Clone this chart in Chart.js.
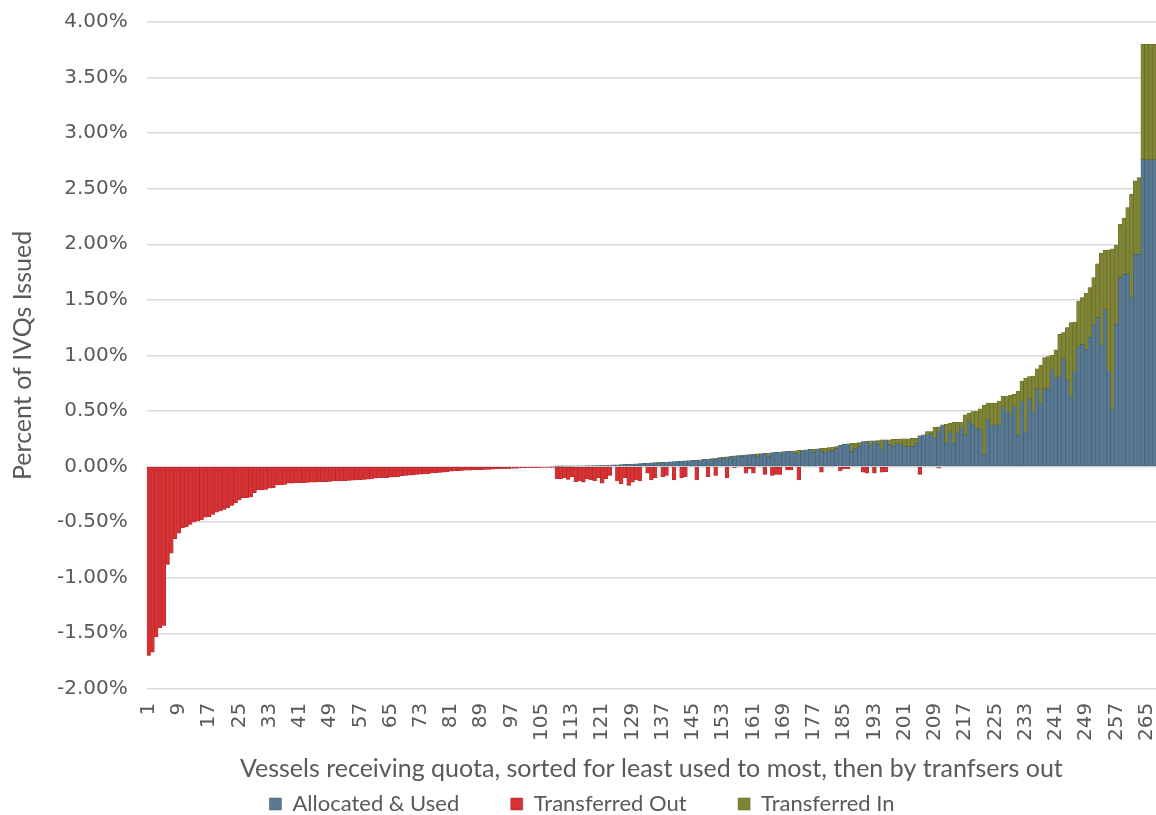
<!DOCTYPE html>
<html>
<head>
<meta charset="utf-8">
<title>IVQ usage by vessel</title>
<script src="https://cdn.jsdelivr.net/npm/chart.js@4/dist/chart.umd.min.js"></script>
<style>
  html, body { margin: 0; padding: 0; background: #fff; }
  #wrap { width: 1156px; height: 815px; }
</style>
</head>
<body>
<div id="wrap"><canvas id="ivqChart" width="1156" height="815"></canvas></div>
<script>
// vessel numbers along the x axis (1..267), labelled every 8th
const vessels = Array.from({ length: 267 }, (_, i) => String(i + 1));

// percent of IVQs issued, one value per vessel
const allocatedUsed = [
  0, 0, 0, 0, 0, 0, 0, 0, 0, 0,
  0, 0, 0, 0, 0, 0, 0, 0, 0, 0,
  0, 0, 0, 0, 0, 0, 0, 0, 0, 0,
  0, 0, 0, 0, 0, 0, 0, 0, 0, 0,
  0, 0, 0, 0, 0, 0, 0, 0, 0, 0,
  0, 0, 0, 0, 0, 0, 0, 0, 0, 0,
  0, 0, 0, 0, 0, 0, 0, 0, 0, 0,
  0, 0, 0, 0, 0, 0, 0, 0, 0, 0,
  0, 0, 0, 0, 0, 0, 0, 0, 0, 0,
  0, 0, 0, 0, 0, 0, 0, 0, 0, 0,
  0, 0, 0, 0, 0, 0, 0, 0, 0.001, 0.002,
  0.003, 0.004, 0.004, 0.005, 0.006, 0.007, 0.008, 0.008, 0.009, 0.010,
  0.011, 0.012, 0.014, 0.015, 0.016, 0.018, 0.019, 0.021, 0.023, 0.025,
  0.027, 0.029, 0.031, 0.033, 0.035, 0.030, 0.039, 0.041, 0.043, 0.045,
  0.047, 0.049, 0.051, 0.045, 0.056, 0.058, 0.052, 0.064, 0.068, 0.060,
  0.065, 0.080, 0.070, 0.088, 0.075, 0.096, 0.099, 0.090, 0.105, 0.108,
  0.111, 0.088, 0.107, 0.120, 0.090, 0.125, 0.128, 0.131, 0.122, 0.137,
  0.139, 0.114, 0.122, 0.137, 0.151, 0.154, 0.128, 0.160, 0.133, 0.131,
  0.140, 0.146, 0.160, 0.190, 0.200, 0.205, 0.135, 0.165, 0.180, 0.225,
  0.226, 0.186, 0.231, 0.200, 0.159, 0.240, 0.201, 0.180, 0.210, 0.195,
  0.180, 0.177, 0.180, 0.210, 0.270, 0.285, 0.276, 0.294, 0.255, 0.315,
  0.375, 0.210, 0.315, 0.210, 0.300, 0.351, 0.285, 0.411, 0.375, 0.345,
  0.330, 0.100, 0.420, 0.366, 0.375, 0.370, 0.540, 0.500, 0.465, 0.540,
  0.280, 0.585, 0.310, 0.610, 0.490, 0.700, 0.570, 0.700, 0.700, 0.870,
  0.790, 0.810, 0.970, 0.780, 0.630, 0.860, 1.077, 1.100, 1.050, 1.160,
  1.270, 1.340, 1.090, 1.415, 0.860, 0.510, 1.280, 1.700, 1.730, 1.730,
  1.520, 1.910, 1.910, 2.760, 2.760, 2.760, 2.760
];

const transferredOut = [
  -1.70, -1.67, -1.53, -1.45, -1.43, -0.88, -0.78, -0.65, -0.60, -0.55,
  -0.54, -0.52, -0.50, -0.49, -0.48, -0.455, -0.45, -0.43, -0.41, -0.40,
  -0.385, -0.37, -0.35, -0.325, -0.30, -0.28, -0.28, -0.275, -0.235, -0.21,
  -0.21, -0.205, -0.195, -0.19, -0.165, -0.165, -0.16, -0.15, -0.15, -0.148,
  -0.146, -0.145, -0.143, -0.14, -0.14, -0.138, -0.136, -0.135, -0.133, -0.13,
  -0.13, -0.128, -0.126, -0.125, -0.123, -0.12, -0.118, -0.116, -0.114, -0.112,
  -0.105, -0.103, -0.101, -0.10, -0.095, -0.093, -0.09, -0.082, -0.08, -0.078,
  -0.075, -0.07, -0.068, -0.066, -0.063, -0.058, -0.055, -0.052, -0.05, -0.045,
  -0.042, -0.04, -0.038, -0.035, -0.033, -0.032, -0.03, -0.029, -0.028, -0.026,
  -0.025, -0.024, -0.022, -0.02, -0.019, -0.018, -0.017, -0.016, -0.015, -0.013,
  -0.012, -0.011, -0.01, -0.009, -0.008, -0.007, -0.005, -0.003, -0.11, -0.11,
  -0.10, -0.115, -0.09, -0.135, -0.13, -0.14, -0.11, -0.12, -0.13, -0.10,
  -0.15, -0.11, -0.08, 0, -0.13, -0.155, -0.10, -0.17, -0.14, -0.12,
  -0.13, 0, -0.06, -0.12, -0.10, 0, -0.09, -0.08, 0, -0.12,
  0, -0.10, -0.09, 0, 0, -0.12, 0, 0, -0.09, 0,
  -0.08, 0, 0, -0.10, 0, -0.01, 0, 0, -0.06, -0.02,
  -0.06, 0, 0, -0.07, 0, -0.08, -0.07, -0.07, 0, -0.03,
  -0.03, 0, -0.12, 0, 0, 0, 0, 0, -0.05, 0,
  0, 0, 0, -0.04, -0.02, -0.02, 0, 0, 0, -0.05,
  -0.06, 0, -0.06, 0, -0.05, -0.045, 0, 0, 0, 0,
  0, 0, 0, 0, -0.07, 0, 0, 0, 0, -0.015,
  0, 0, 0, 0, 0, 0, 0, 0, 0, 0,
  0, 0, 0, 0, 0, 0, 0, 0, 0, 0,
  0, 0, 0, 0, 0, 0, 0, 0, 0, 0,
  0, 0, 0, 0, 0, 0, 0, 0, 0, 0,
  0, 0, 0, 0, 0, 0, 0, 0, 0, 0,
  0, 0, 0, 0, 0, 0, 0
];

const transferredIn = [
  0, 0, 0, 0, 0, 0, 0, 0, 0, 0,
  0, 0, 0, 0, 0, 0, 0, 0, 0, 0,
  0, 0, 0, 0, 0, 0, 0, 0, 0, 0,
  0, 0, 0, 0, 0, 0, 0, 0, 0, 0,
  0, 0, 0, 0, 0, 0, 0, 0, 0, 0,
  0, 0, 0, 0, 0, 0, 0, 0, 0, 0,
  0, 0, 0, 0, 0, 0, 0, 0, 0, 0,
  0, 0, 0, 0, 0, 0, 0, 0, 0, 0,
  0, 0, 0, 0, 0, 0, 0, 0, 0, 0,
  0, 0, 0, 0, 0, 0, 0, 0, 0, 0,
  0, 0, 0, 0, 0, 0, 0, 0, 0, 0,
  0, 0, 0, 0, 0, 0, 0, 0, 0, 0,
  0, 0, 0, 0, 0, 0, 0, 0, 0, 0,
  0, 0, 0, 0, 0, 0.007, 0, 0, 0, 0,
  0, 0, 0, 0.008, 0, 0, 0.009, 0, 0, 0.011,
  0.010, 0, 0.014, 0, 0.017, 0, 0, 0.012, 0, 0,
  0, 0.026, 0.010, 0, 0.032, 0, 0, 0, 0.012, 0,
  0, 0.028, 0.023, 0.011, 0, 0, 0.029, 0, 0.030, 0.035,
  0.030, 0.027, 0.020, 0, 0, 0, 0.075, 0.045, 0.036, 0,
  0, 0.045, 0, 0.034, 0.081, 0, 0.040, 0.066, 0.036, 0.054,
  0.069, 0.072, 0.075, 0.045, 0.009, 0, 0.039, 0.021, 0.099, 0.042,
  0, 0.171, 0.075, 0.189, 0.100, 0.050, 0.180, 0.069, 0.120, 0.155,
  0.190, 0.450, 0.150, 0.204, 0.195, 0.220, 0.095, 0.135, 0.175, 0.110,
  0.400, 0.185, 0.485, 0.200, 0.325, 0.180, 0.340, 0.280, 0.290, 0.130,
  0.260, 0.380, 0.235, 0.470, 0.665, 0.440, 0.413, 0.420, 0.510, 0.450,
  0.430, 0.485, 0.830, 0.530, 1.090, 1.450, 0.710, 0.480, 0.505, 0.600,
  0.930, 0.660, 0.690, 1.040, 1.040, 1.040, 1.040
];

// y axis runs -2% .. 4% in half-percent steps
const yMin = -2;
const yMax = 4;
const yStep = 0.5;

const textGrey = '#595959';

function seriesStyle(fill, edge) {
  return {
    backgroundColor: fill,
    borderColor: edge,
    borderWidth: 0.5,
    borderSkipped: false,
    barPercentage: 1,
    categoryPercentage: 1
  };
}

// default legend items, with extra room after each label
function spacedLegendLabels(chart) {
  const items = Chart.defaults.plugins.legend.labels.generateLabels(chart);
  items.forEach((item, i) => {
    if (i < items.length - 1) item.text += '\u2003\u2003\u2003';
  });
  return items;
}

const ctx = document.getElementById('ivqChart');
const ivqChart = new Chart(ctx, {
  type: 'bar',
  data: {
    labels: vessels,
    datasets: [
      Object.assign({ label: 'Allocated & Used', data: allocatedUsed },
        seriesStyle('rgb(88, 121, 145)', 'rgb(62, 88, 108)')),
      Object.assign({ label: 'Transferred Out', data: transferredOut },
        seriesStyle('rgb(214, 50, 52)', 'rgb(170, 36, 38)')),
      Object.assign({ label: 'Transferred In', data: transferredIn },
        seriesStyle('rgb(127, 133, 52)', 'rgb(92, 98, 34)'))
    ]
  },
  options: {
    responsive: false,
    animation: false,
    // legend sits a little lower than its default box allows
    layout: { padding: { top: 0, left: 8, right: 0, bottom: -10 } },
    plugins: {
      tooltip: { enabled: false },
      legend: {
        position: 'bottom',
        labels: {
          boxWidth: 12,
          boxHeight: 12,
          padding: 2,
          color: textGrey,
          font: { family: 'Lato', size: 22 },
          generateLabels: spacedLegendLabels
        }
      }
    },
    scales: {
      x: {
        stacked: true,
        grid: { display: false },
        border: { display: false },
        // bars run right up to the edge of the canvas
        afterFit: (scale) => { scale.paddingRight = 0; },
        ticks: {
          autoSkip: false,
          minRotation: 90,
          maxRotation: 90,
          padding: 6,
          color: textGrey,
          font: { family: 'DejaVu Sans', size: 20 },
          callback: (value, index) => (index % 8 === 0 ? vessels[index] : '')
        },
        title: {
          display: true,
          text: 'Vessels receiving quota, sorted for least used to most, then by tranfsers out',
          color: textGrey,
          font: { family: 'Lato', size: 25 },
          padding: { top: 7, bottom: 7 }
        }
      },
      y: {
        stacked: true,
        min: yMin,
        max: yMax,
        afterFit: (scale) => { scale.paddingTop = 22; },
        grid: { color: '#d9d9d9', lineWidth: 1.5, drawTicks: false },
        border: { display: false },
        ticks: {
          stepSize: yStep,
          padding: 19,
          color: textGrey,
          font: { family: 'DejaVu Sans', size: 20 },
          callback: (v) => v.toFixed(2) + '%'
        },
        title: {
          display: true,
          text: 'Percent of IVQs Issued',
          color: textGrey,
          font: { family: 'Lato', size: 25 },
          padding: { top: 0, bottom: 0 }
        }
      }
    }
  }
});
</script>
</body>
</html>
